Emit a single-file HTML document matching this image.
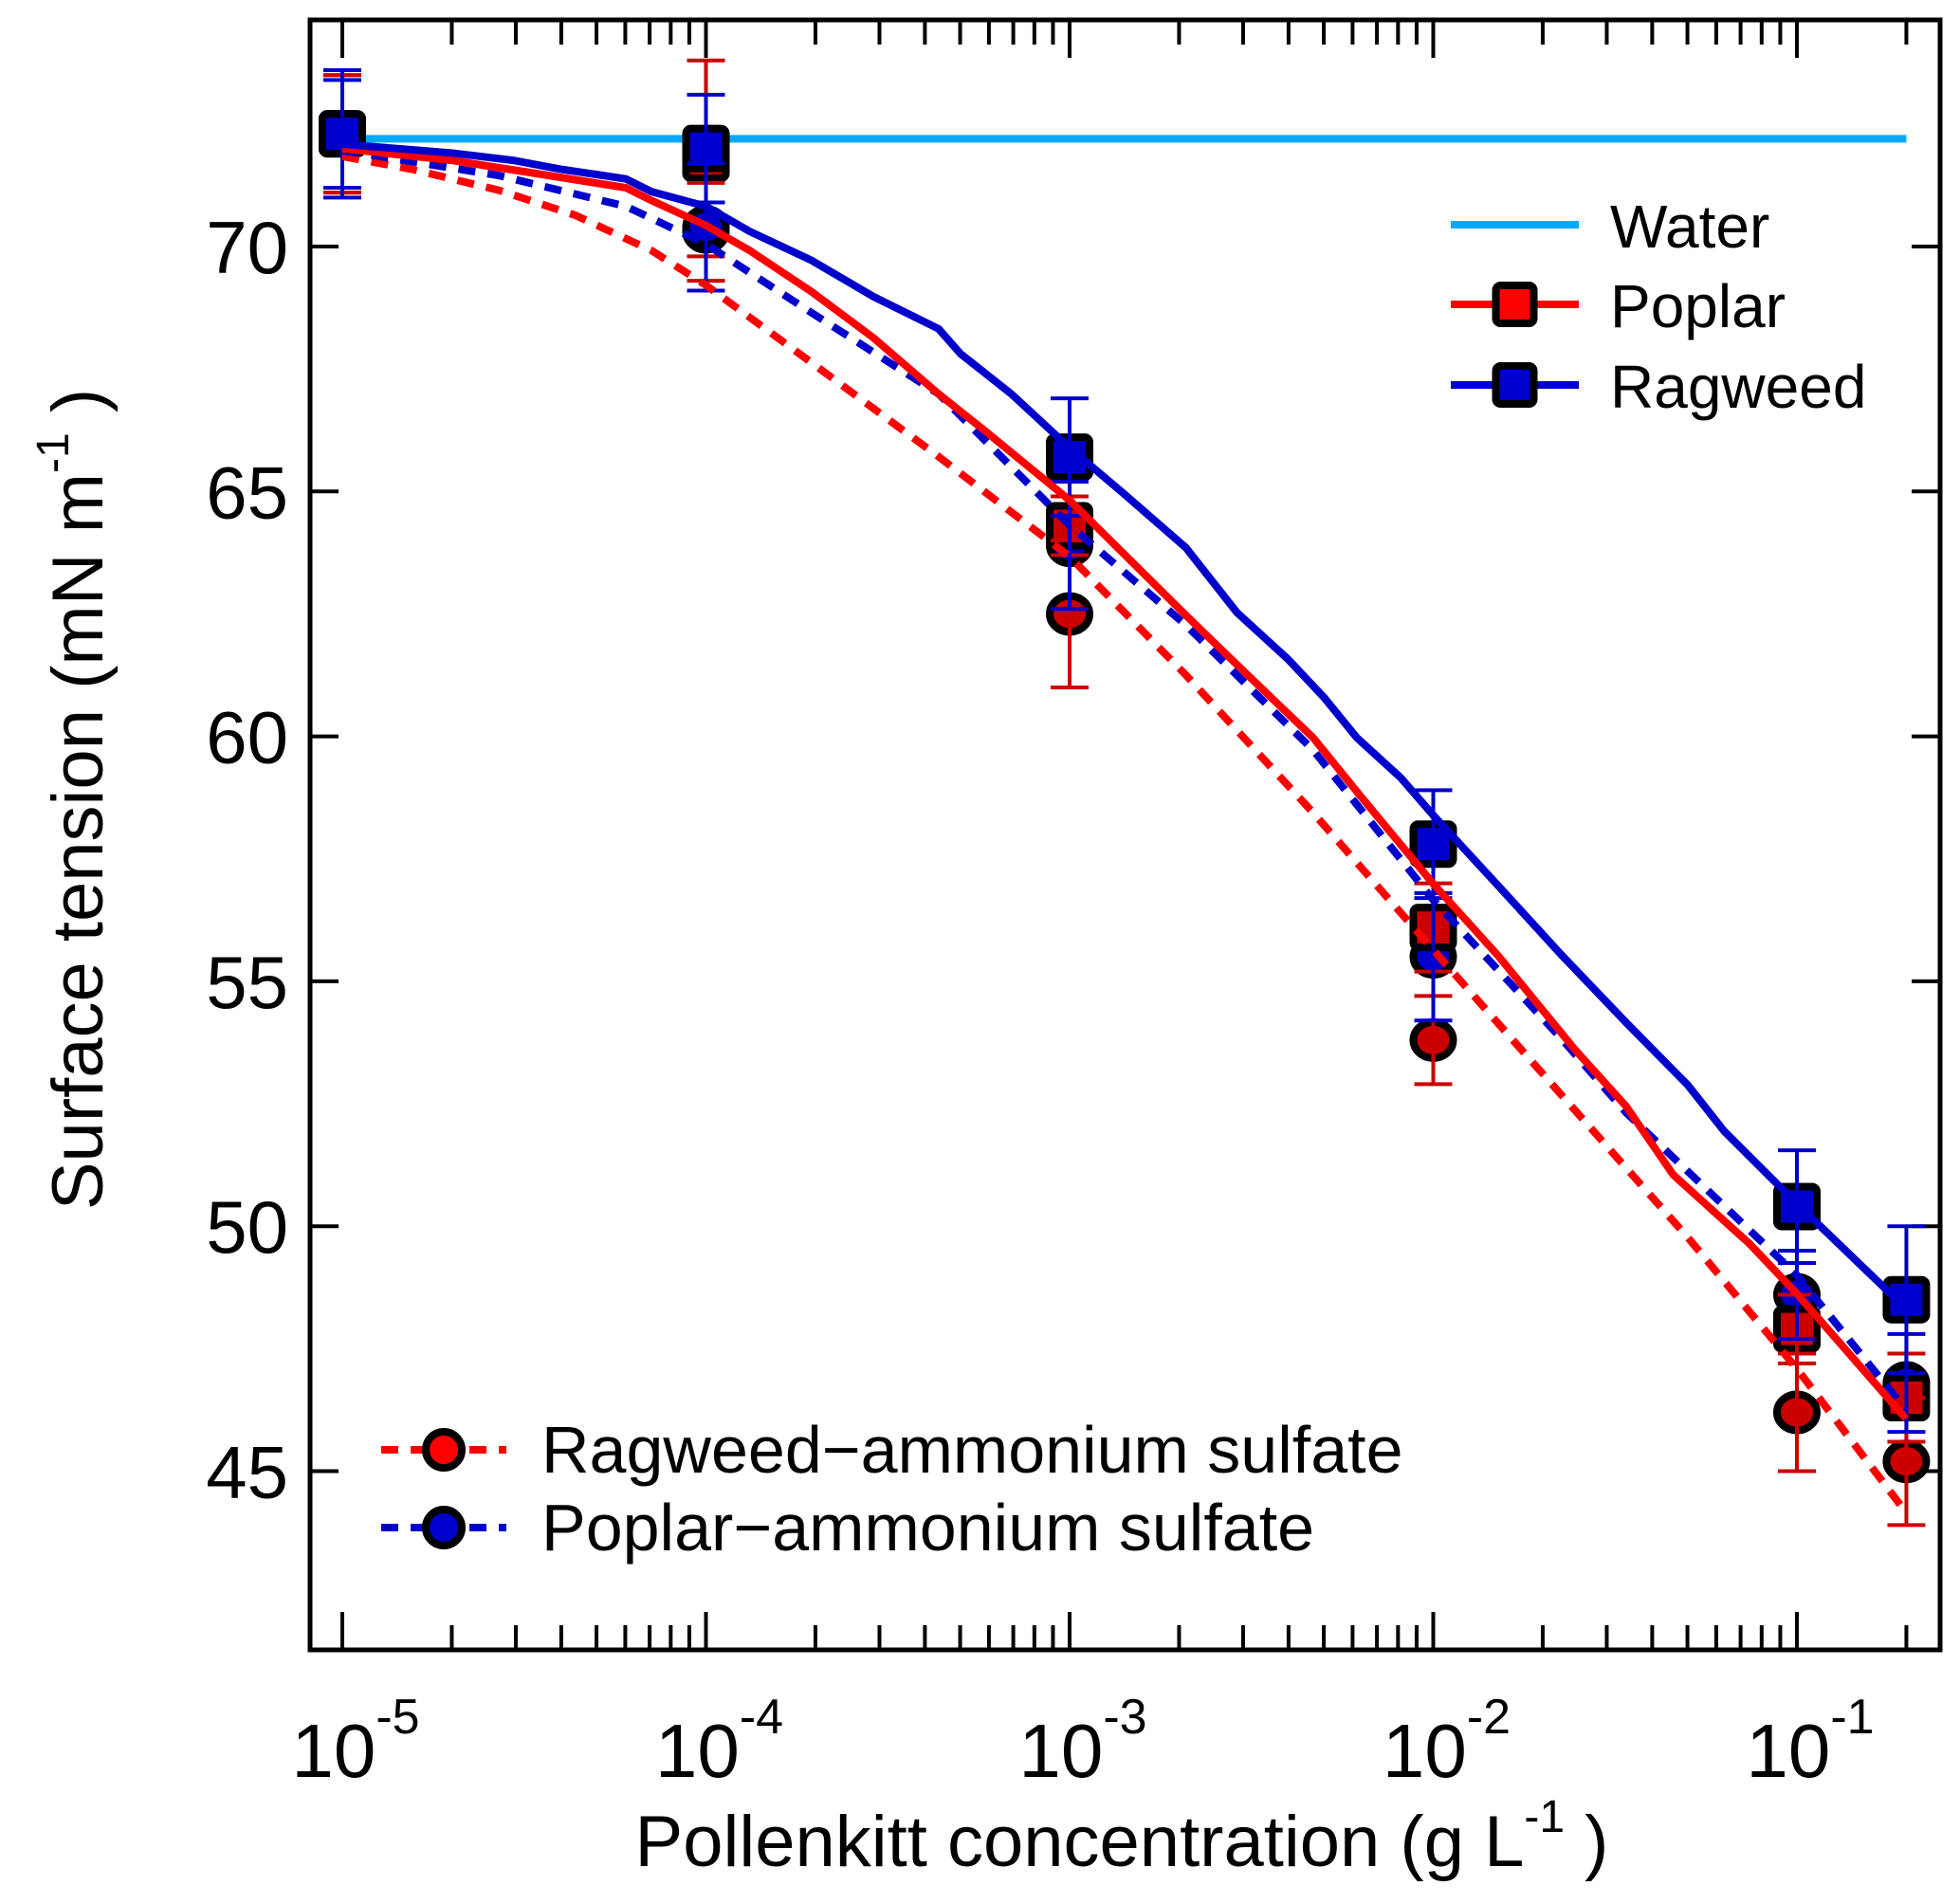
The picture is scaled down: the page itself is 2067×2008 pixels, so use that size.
<!DOCTYPE html>
<html><head><meta charset="utf-8"><style>
html,body{margin:0;padding:0;background:#fff}
svg text{font-family:"Liberation Sans",sans-serif;fill:#000}
</style></head><body>
<svg id="chart" width="2067" height="2003" viewBox="0 0 2067 2003" xmlns="http://www.w3.org/2000/svg">
</svg>
<script>
const decades=[-5,-4,-3,-2,-1];
const yTicks=[45,50,55,60,65,70];
const markerX=[1e-5,1e-4,1e-3,1e-2,1e-1,0.2];
const poplarY=[72.3,71.8,64.3,56.1,47.9,46.5];
const poplarErr=[1.2,2.0,0.6,0.9,0.7,0.9];
const ragweedY=[72.3,72.0,65.7,57.8,50.4,48.5];
const ragweedErr=[1.3,1.1,1.2,1.1,1.15,1.5];
const ragAsY=[72.3,70.3,62.5,53.8,46.2,45.2];
const ragAsErr=[1.2,1.0,1.5,0.9,1.2,1.3];
const popAsY=[72.3,70.4,63.9,55.5,48.6,46.8];
const popAsErr=[1.1,1.3,1.3,1.3,0.9,1.0];
const waterY=72.2;
const fitRagLogX=[-5,-4.70,-4.53,-4.40,-4.22,-4.15,-4.0,-3.88,-3.71,-3.54,-3.36,-3.30,-3.16,-3.0,-2.85,-2.68,-2.54,-2.40,-2.30,-2.21,-2.09,-2.0,-1.82,-1.65,-1.47,-1.30,-1.20,-1.0,-0.70];
const fitRagY=[72.09,71.91,71.76,71.58,71.38,71.12,70.82,70.31,69.72,68.98,68.32,67.81,66.99,65.89,64.95,63.85,62.53,61.58,60.79,59.97,59.16,58.39,56.94,55.56,54.16,52.88,51.94,50.46,48.32];
const fitPopLogX=[-5,-4.70,-4.50,-4.22,-4.15,-4,-3.88,-3.71,-3.54,-3.36,-3.23,-3,-2.85,-2.68,-2.51,-2.33,-2.20,-2,-1.82,-1.61,-1.47,-1.34,-1.13,-1,-0.70];
const fitPopY=[72.0,71.76,71.53,71.2,70.94,70.43,69.92,69.08,68.14,66.99,66.22,64.82,63.72,62.47,61.25,59.97,58.78,56.99,55.51,53.60,52.45,51.05,49.64,48.62,46.07];
const fitPopAsLogX=[-5,-4.57,-4.22,-4,-3.71,-3.36,-3,-2.68,-2.33,-2,-1.65,-1.47,-1,-0.70];
const fitPopAsY=[71.96,71.45,70.82,70.05,68.65,66.99,64.31,62.27,59.72,56.66,53.85,52.32,49.0,46.25];
const fitRagAsLogX=[-5,-4.81,-4.57,-4.36,-4.15,-4,-3.71,-3.36,-3,-2.68,-2.33,-2,-1.65,-1.30,-1,-0.70];
const fitRagAsY=[71.84,71.58,71.15,70.64,69.92,69.21,67.63,65.71,63.67,61.25,58.44,55.64,52.70,49.77,47.09,44.16];

const L=327,T=21,R=2046,B=1740;
const X0=361,DEC=383.5;
function xs(v){return X0+(Math.log10(v)+5)*DEC;}
function xl(l){return X0+(l+5)*DEC;}
function ys(v){return 260+(70-v)*51.66;}
const svg=document.getElementById('chart');
const NS='http://www.w3.org/2000/svg';
function mk(tag,attrs,parent){const e=document.createElementNS(NS,tag);for(const k in attrs)e.setAttribute(k,attrs[k]);(parent||svg).appendChild(e);return e;}

const frame=mk('rect',{x:L,y:T,width:R-L,height:B-T,fill:'none',stroke:'#000','stroke-width':5});



const xg=mk('g',{});


decades.forEach(d=>{
  const x=xl(d);
  mk('line',{x1:x,y1:B,x2:x,y2:B-40,stroke:'#000','stroke-width':4},xg);
  mk('line',{x1:x,y1:T,x2:x,y2:T+40,stroke:'#000','stroke-width':4},xg);
  for(let m=2;m<=9;m++){
    const xm=xl(d+Math.log10(m));
    if(xm>R-5)break;
    mk('line',{x1:xm,y1:B,x2:xm,y2:B-26,stroke:'#000','stroke-width':4},xg);
    mk('line',{x1:xm,y1:T,x2:xm,y2:T+26,stroke:'#000','stroke-width':4},xg);
  }
  const t=mk('text',{x:x+14,y:1874,'font-size':80,'text-anchor':'middle'},xg);
  
  
  t.textContent='10';
  const s=mk('tspan',{dy:-46,'font-size':52},t);s.textContent=String(d);
});
const yg=mk('g',{});


yTicks.forEach(v=>{
  const y=ys(v);
  mk('line',{x1:L,y1:y,x2:L+30,y2:y,stroke:'#000','stroke-width':4},yg);
  mk('line',{x1:R,y1:y,x2:R-30,y2:y,stroke:'#000','stroke-width':4},yg);
  const t=mk('text',{x:304,y:y+28,'font-size':78,'text-anchor':'end'},yg);
  
  
  t.textContent=String(v);
});
const xt=mk('text',{x:1183,y:1968,'font-size':76,'text-anchor':'middle'});


xt.innerHTML='Pollenkitt concentration (g L<tspan dy="-36" font-size="48">-1</tspan><tspan dy="36"> )</tspan>';
const yt=mk('text',{x:0,y:0,'font-size':76,'text-anchor':'middle',transform:'translate(108,843) rotate(-90)'});


yt.innerHTML='Surface  tension (mN m<tspan dy="-36" font-size="48">-1</tspan><tspan dy="36"> )</tspan>';

function path(lx,ys_,color,dash,name){
  const d=lx.map((l,i)=>(i?'L':'M')+xl(l).toFixed(1)+','+ys(ys_[i]).toFixed(1)).join(' ');
  const p=mk('path',{d:d,fill:'none',stroke:color,'stroke-width':8,'stroke-dasharray':dash||'none'});
  
  
}
const w=mk('line',{x1:xs(1e-5),x2:xs(0.2),y1:ys(waterY),y2:ys(waterY),stroke:'#00aaff','stroke-width':8});



function errs(ys_,es,color,name){
  markerX.forEach((xv,i)=>{
    const x=xs(xv),a=ys(ys_[i]+es[i]),b=ys(ys_[i]-es[i]);
    const g=mk('g',{stroke:color,'stroke-width':4});
    
    
    mk('line',{x1:x,x2:x,y1:a,y2:b},g);
    mk('line',{x1:x-20,x2:x+20,y1:a,y2:a},g);
    mk('line',{x1:x-20,x2:x+20,y1:b,y2:b},g);
  });
}
function circles(ys_,color,name){
  markerX.forEach((xv,i)=>{
    const c=mk('ellipse',{cx:xs(xv),cy:ys(ys_[i]),rx:21,ry:19,fill:color,stroke:'#000','stroke-width':8});
    
    
  });
}
function squares(ys_,color,name){
  markerX.forEach((xv,i)=>{
    const s=mk('rect',{x:xs(xv)-21,y:ys(ys_[i])-21,width:42,height:42,rx:5,fill:color,stroke:'#000','stroke-width':8});
    
    
  });
}
circles(ragAsY,'#cc0000','ragweed-as-point');
circles(popAsY,'#0000cc','poplar-as-point');
squares(poplarY,'#cc0000','poplar-point');
squares(ragweedY,'#0000cc','ragweed-point');
errs(ragAsY,ragAsErr,'#cc0000','ragweed-as-error');
errs(poplarY,poplarErr,'#cc0000','poplar-error');
errs(popAsY,popAsErr,'#0000cc','poplar-as-error');
errs(ragweedY,ragweedErr,'#0000cc','ragweed-error');
path(fitRagAsLogX,fitRagAsY,'#ff0000','18 13','ragweed-as-fit');
path(fitPopAsLogX,fitPopAsY,'#0000cc','18 13','poplar-as-fit');
path(fitPopLogX,fitPopY,'#ff0000',null,'poplar-fit');
path(fitRagLogX,fitRagY,'#0000cc',null,'ragweed-fit');

function legLine(y,color,dash,mark,fill,label,name,tx,x1,x2,fs){
  const g=mk('g',{});
  
  
  mk('line',{x1:x1,x2:x2,y1:y,y2:y,stroke:color,'stroke-width':8,'stroke-dasharray':dash||'none'},g);
  const cx=(x1+x2)/2;
  if(mark==='sq')mk('rect',{x:cx-20,y:y-20,width:40,height:40,rx:5,fill:fill,stroke:'#000','stroke-width':8},g);
  if(mark==='ci')mk('ellipse',{cx:cx,cy:y,rx:19,ry:19,fill:fill,stroke:'#000','stroke-width':8},g);
  const t=mk('text',{x:tx,y:y+24,'font-size':fs},g);
  t.textContent=label;
}
legLine(237,'#00aaff',null,null,null,'Water','legend-water',1698,1530,1665,64);
legLine(321,'#ff0000',null,'sq','#ff0000','Poplar','legend-poplar',1698,1530,1665,64);
legLine(406,'#0000cc',null,'sq','#0000cc','Ragweed','legend-ragweed',1698,1530,1665,64);
legLine(1529,'#ff0000','18 13','ci','#ff0000','Ragweed\u2212ammonium sulfate','legend-ragweed-as',571,402,534,70);
legLine(1611,'#0000cc','18 13','ci','#0000cc','Poplar\u2212ammonium sulfate','legend-poplar-as',571,402,534,70);
</script>
</body></html>
